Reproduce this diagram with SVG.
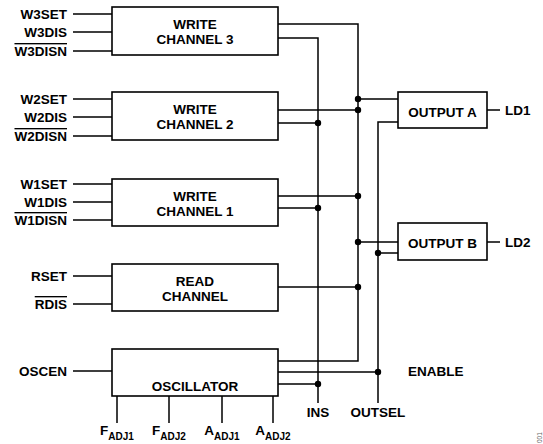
<svg xmlns="http://www.w3.org/2000/svg" width="543" height="444" viewBox="0 0 543 444">
<style>
text{font-family:"Liberation Sans",Arial,sans-serif;font-weight:bold;font-size:13.5px;fill:#000}
.box{fill:#fff;stroke:#000;stroke-width:1.6}
.w{fill:none;stroke:#000;stroke-width:1.5}
.lbl{text-anchor:end}
.c{text-anchor:middle}
.ob{text-decoration:overline}
.dot{fill:#000}
.sub{font-size:10px}
</style>
<rect width="543" height="444" fill="#fff"/>
<g id="connectors">
<!-- input lines -->
<path class="w" d="M73 14H112M73 32H112M73 51H112M73 99H112M73 117H112M73 136H112M73 184H112M73 202H112M73 220H112M73 276H112M73 304H112M73 371H112"/>
<!-- WC3 outputs -->
<path class="w" d="M278 24H358V361H278"/>
<path class="w" d="M278 38H318V403"/>
<!-- WC2 -->
<path class="w" d="M278 110H358M278 123H318"/>
<!-- WC1 -->
<path class="w" d="M278 196H358M278 208H318"/>
<!-- Read -->
<path class="w" d="M278 287H358"/>
<!-- Output A inputs -->
<path class="w" d="M358 99H398M398 122H378V403"/>
<!-- Output B inputs -->
<path class="w" d="M358 242H398M378 253H398"/>
<!-- Oscillator outputs -->
<path class="w" d="M278 372H378M278 384H318"/>
<!-- output lines -->
<path class="w" d="M487 110H500M487 242H500"/>
<!-- oscillator pins -->
<path class="w" d="M117 396V423M169 396V423M222 396V423M273 396V423"/>
<circle class="dot" cx="358" cy="99" r="3.2"/>
<circle class="dot" cx="358" cy="110" r="3.2"/>
<circle class="dot" cx="318" cy="123" r="3.2"/>
<circle class="dot" cx="358" cy="196" r="3.2"/>
<circle class="dot" cx="318" cy="208" r="3.2"/>
<circle class="dot" cx="358" cy="242" r="3.2"/>
<circle class="dot" cx="378" cy="253" r="3.2"/>
<circle class="dot" cx="358" cy="287" r="3.2"/>
<circle class="dot" cx="378" cy="372" r="3.2"/>
<circle class="dot" cx="318" cy="384" r="3.2"/>
</g>
<g id="wc3">
<rect class="box" x="112" y="7" width="166" height="48"/>
<text class="c" x="195" y="29">WRITE</text>
<text class="c" x="195" y="44">CHANNEL 3</text>
</g>
<g id="wc2">
<rect class="box" x="112" y="92" width="166" height="48"/>
<text class="c" x="195" y="114">WRITE</text>
<text class="c" x="195" y="129">CHANNEL 2</text>
</g>
<g id="wc1">
<rect class="box" x="112" y="179" width="166" height="47"/>
<text class="c" x="195" y="201">WRITE</text>
<text class="c" x="195" y="216">CHANNEL 1</text>
</g>
<g id="read">
<rect class="box" x="112" y="264" width="166" height="47"/>
<text class="c" x="195" y="286">READ</text>
<text class="c" x="195" y="301">CHANNEL</text>
</g>
<g id="osc">
<rect class="box" x="112" y="349" width="166" height="47"/>
<text class="c" x="195" y="391">OSCILLATOR</text>
</g>
<g id="outA">
<rect class="box" x="398" y="92" width="89" height="36"/>
<text class="c" x="442.5" y="117">OUTPUT A</text>
</g>
<g id="outB">
<rect class="box" x="398" y="223" width="89" height="37"/>
<text class="c" x="442.5" y="248">OUTPUT B</text>
</g>
<g id="labels">
<text class="lbl" x="67" y="19">W3SET</text>
<text class="lbl" x="67" y="37">W3DIS</text>
<text class="lbl ob" x="67" y="56">W3DISN</text>
<text class="lbl" x="67" y="104">W2SET</text>
<text class="lbl" x="67" y="122">W2DIS</text>
<text class="lbl ob" x="67" y="141">W2DISN</text>
<text class="lbl" x="67" y="189">W1SET</text>
<text class="lbl" x="67" y="207">W1DIS</text>
<text class="lbl ob" x="67" y="225">W1DISN</text>
<text class="lbl" x="67" y="281">RSET</text>
<text class="lbl ob" x="67" y="309">RDIS</text>
<text class="lbl" x="67" y="376">OSCEN</text>
<text x="505" y="115">LD1</text>
<text x="505" y="247">LD2</text>
<text x="408" y="376">ENABLE</text>
<text class="c" x="318" y="417">INS</text>
<text class="c" x="378" y="417">OUTSEL</text>
<text class="c" x="117" y="435">F<tspan class="sub" dy="5">ADJ1</tspan></text>
<text class="c" x="169" y="435">F<tspan class="sub" dy="5">ADJ2</tspan></text>
<text class="c" x="222" y="435">A<tspan class="sub" dy="5">ADJ1</tspan></text>
<text class="c" x="273" y="435">A<tspan class="sub" dy="5">ADJ2</tspan></text>
<text transform="translate(542,443) rotate(-90)" style="font-size:6.5px;font-weight:normal;fill:#666">001</text>
</g>
</svg>
